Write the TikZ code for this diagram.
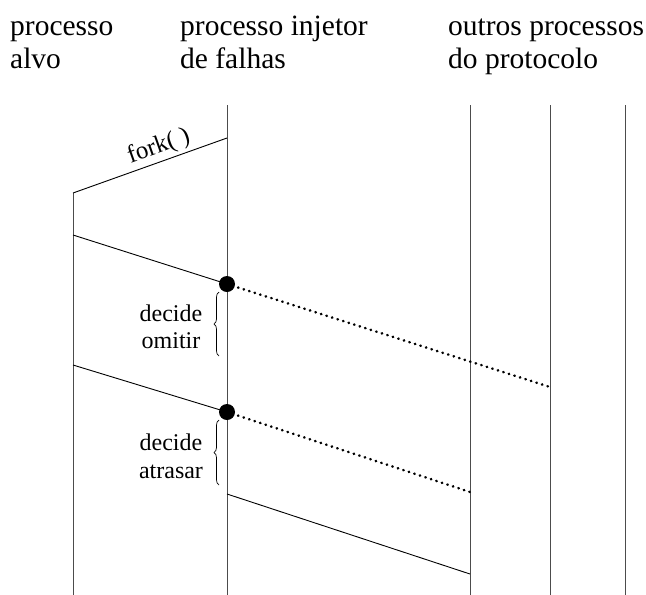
\documentclass[tikz,border=0pt]{standalone}
\usepackage{fontspec}
\setmainfont{Liberation Serif}
\usetikzlibrary{decorations.pathreplacing}
\begin{document}
\begin{tikzpicture}[x=1pt,y=-1pt,
  head/.style={anchor=base west,inner sep=0pt,font=\fontsize{29.5}{33}\selectfont},
  small/.style={anchor=base,inner sep=0pt,font=\fontsize{24}{28}\selectfont},
  life/.style={black!70,line width=0.9pt},
  msg/.style={black,line width=0.9pt},
  dotmsg/.style={black,line width=2.6pt,line cap=round,dash pattern=on 0.4pt off 5.4pt},
  event/.style={circle,fill=black,inner sep=0pt,minimum size=16pt},
  bracestyle/.style={black,line width=0.7pt,decorate,decoration={brace,amplitude=5pt}}
]
\useasboundingbox (0,0) rectangle (646,595);
% headers
\node[head] (h1a) at (10,35) {processo};
\node[head] (h1b) at (10,68) {alvo};
\node[head] (h2a) at (180,35) {processo injetor};
\node[head] (h2b) at (180,68) {de falhas};
\node[head] (h3a) at (448,35) {outros processos};
\node[head] (h3b) at (448,68) {do protocolo};
% lifeline coordinates
\coordinate (aT) at (73,193);   \coordinate (aB) at (73,595);
\coordinate (iT) at (227,105);  \coordinate (iB) at (227,595);
\coordinate (o1T) at (470,105); \coordinate (o1B) at (470,595);
\coordinate (o2T) at (550,105); \coordinate (o2B) at (550,595);
\coordinate (o3T) at (625,105); \coordinate (o3B) at (625,595);
\draw[life] (aT) -- (aB);
\draw[life] (iT) -- (iB);
\draw[life] (o1T) -- (o1B);
\draw[life] (o2T) -- (o2B);
\draw[life] (o3T) -- (o3B);
% fork
\coordinate (fk) at (227,138);
\draw[msg] (aT) -- node[pos=0.59,above=1pt,sloped,inner sep=2pt,font=\fontsize{25}{28}\selectfont] (forklbl) {fork(~)} (fk);
% first message
\coordinate (m1s) at (73,235);
\node[event] (e1) at (227,284) {};
\coordinate (m1e) at (550,387);
\draw[msg] (m1s) -- (e1.center);
\draw[dotmsg] (e1.center) -- (m1e);
% second message
\coordinate (m2s) at (73,365);
\node[event] (e2) at (227,412) {};
\coordinate (m2e) at (470,492);
\draw[msg] (m2s) -- (e2.center);
\draw[dotmsg] (e2.center) -- (m2e);
% third message
\coordinate (m3s) at (227,494);
\coordinate (m3e) at (470,574);
\draw[msg] (m3s) -- (m3e);
% braces
\coordinate (b1a) at (219,356); \coordinate (b1b) at (219,292);
\coordinate (b2a) at (219,485); \coordinate (b2b) at (219,420);
\draw[bracestyle] (b1a) -- (b1b);
\draw[bracestyle] (b2a) -- (b2b);
\node[small] (t1a) at (171,321) {decide};
\node[small] (t1b) at (171,348) {omitir};
\node[small] (t2a) at (171,450) {decide};
\node[small] (t2b) at (171,478) {atrasar};
\end{tikzpicture}
\end{document}
